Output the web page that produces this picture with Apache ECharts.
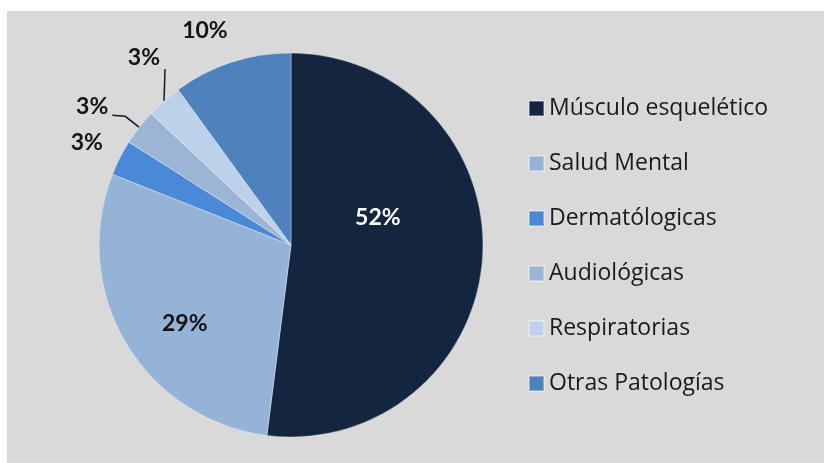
<!DOCTYPE html>
<html>
<head>
<meta charset="utf-8">
<script src="https://cdn.jsdelivr.net/npm/echarts@6/dist/echarts.min.js"></script>
<style>
  html, body { margin: 0; padding: 0; background: #fff; }
  #main { width: 824px; height: 463px; }
</style>
</head>
<body>
<div id="main"></div>
<script>
// categorías y porcentajes
var categorias = ['Músculo esquelético', 'Salud Mental', 'Dermatólogicas', 'Audiológicas', 'Respiratorias', 'Otras Patologías'];
var valores = [52, 29, 3, 3, 3, 10];
var colores = ['#13253f', '#95b3d7', '#4a89d6', '#9db5d4', '#bed1ea', '#4f81bd'];

// ajustes de etiquetas (desplazamiento respecto al borde del sector)
function ajusteEtiqueta(params) {
    var i = params.dataIndex;
    var pts = params.labelLinePoints;
    if (i === 0) return { dx: -12, dy: -34 };
    if (i === 1) return { dx: -21, dy: 28 };
    if (!pts) return {};
    var p = pts[0];
    if (i === 2) {
        return { x: p[0] - 17, y: p[1] - 15, align: 'right', verticalAlign: 'middle', labelLinePoints: [p, p] };
    }
    if (i === 3) {
        return { x: p[0] - 31, y: p[1] - 21, align: 'right', verticalAlign: 'middle',
            labelLinePoints: [p, [p[0] - 14, p[1] - 11], [p[0] - 27, p[1] - 12]] };
    }
    if (i === 4) {
        return { x: p[0] - 4, y: p[1] - 43, align: 'right', verticalAlign: 'middle',
            labelLinePoints: [p, [p[0] + 1, p[1] - 32]] };
    }
    return { x: p[0] - 4, y: p[1] - 32, align: 'right', verticalAlign: 'middle', labelLinePoints: [p, p] };
}

var datos = [];
for (var i = 0; i < categorias.length; i++) {
    var item = { name: categorias[i], value: valores[i], itemStyle: { color: colores[i] } };
    if (i === 0) {
        item.label = { position: 'inside', color: '#ffffff' };
    } else if (i === 1) {
        item.label = { position: 'inside', color: '#141414' };
    }
    datos.push(item);
}

var myChart = echarts.init(document.getElementById('main'));
var option = {
    animation: false,
    backgroundColor: '#ffffff',
    graphic: [{
        type: 'rect',
        z: -10,
        shape: { x: 7, y: 11, width: 817, height: 452 },
        style: { fill: '#d9d9d9' }
    }],
    legend: {
        orient: 'vertical',
        left: 528,
        top: 97,
        padding: 0,
        icon: 'rect',
        itemWidth: 15,
        itemHeight: 15,
        itemGap: 32,
        textStyle: { fontFamily: 'Open Sans', fontSize: 23, color: '#1a1a1a' },
        data: categorias
    },
    series: [{
        type: 'pie',
        center: [291, 245],
        radius: 192,
        startAngle: 90,
        clockwise: true,
        avoidLabelOverlap: false,
        itemStyle: { borderColor: 'rgba(255,255,255,0.35)', borderWidth: 1 },
        label: {
            show: true,
            position: 'outside',
            formatter: '{c}%',
            fontFamily: 'Lato',
            fontWeight: 'bold',
            fontSize: 23,
            color: '#141414'
        },
        labelLine: {
            show: true,
            length: 10,
            length2: 5,
            lineStyle: { color: '#1a1a1a', width: 1.5 }
        },
        emphasis: { disabled: true },
        labelLayout: ajusteEtiqueta,
        data: datos
    }]
};
myChart.setOption(option);
</script>
</body>
</html>
